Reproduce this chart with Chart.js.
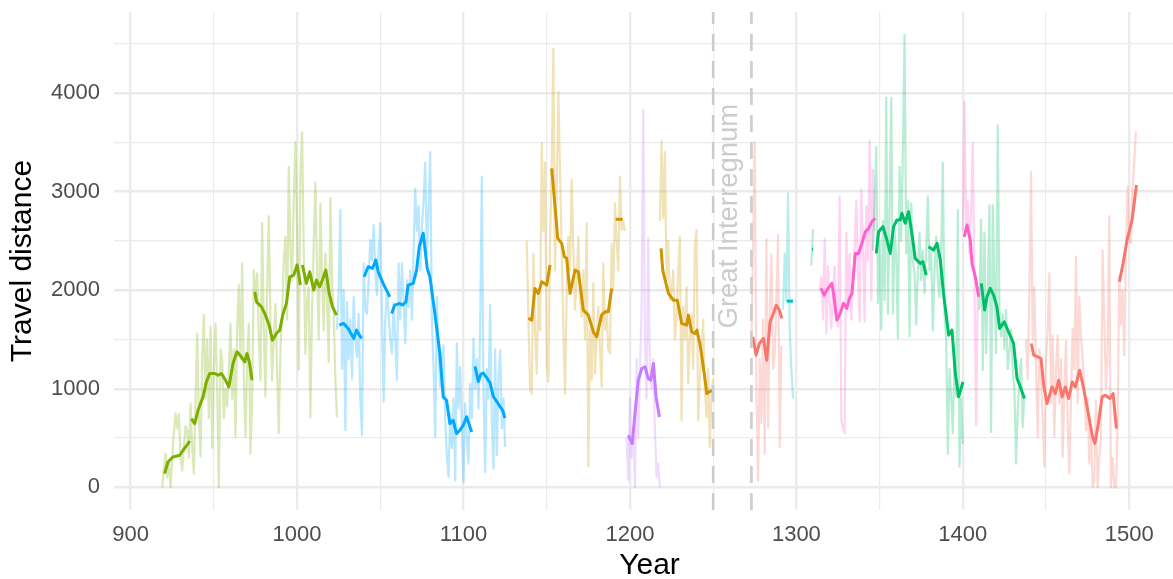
<!DOCTYPE html>
<html>
<head>
<meta charset="utf-8">
<script src="https://cdn.jsdelivr.net/npm/chart.js@4"></script>
<style>
  html, body { margin: 0; padding: 0; background: #fff; overflow: hidden; }
  #wrap { width: 1173px; height: 579px; overflow: hidden; }
</style>
</head>
<body>
<div id="wrap"><canvas id="grafico-reisen" width="1190" height="579"></canvas></div>
<script>
// yearly travel distance, one value per year from the start year
var ottonenStart = 919;
var ottonenRaw = [0, 200, 340, 100, 250, 0, 300, 560, 750, 600, 740, 300, 170, 400, 620, 580, 300,
  850, 400, 140, 900, 1560, 700, 310, 1300, 1750, 900, 1500, 700, 1630, 400, 1200, 1660, 1000, 0,
  1400, 1290, 700, 1000, 820, 1200, 1660, 900, 1400, 510, 1600, 2050, 1300, 2270, 1100, 510, 1300,
  1660, 340, 900, 2200, 1900, 2170, 1500, 1085, 2680, 1600, 920, 2000, 2750, 1700, 1085, 1500, 1860,
  1200, 550, 1400, 1760, 2300, 2540, 1700, 3250, 2400, 2100, 2900, 3500, 2600, 1190, 3150, 3600,
  2400, 1350, 1900, 2030, 710, 1800, 2470, 3090, 2200, 1500, 2880, 2100, 1590, 2370, 1900, 1270,
  2930, 2100, 1760, 1100, 710];

var salierStart = 1024;
var salierRaw = [1600, 2000, 2810, 1200, 2000, 580, 1880, 1300, 1700, 1100, 1930, 1500, 1320, 1760,
  900, 530, 2270, 1800, 1760, 2100, 2510, 2300, 2660, 2200, 1950, 2400, 2680, 1800, 870, 1700, 2000,
  1760, 1500, 1360, 1870, 1500, 1090, 2270, 1700, 2270, 1900, 1460, 2100, 1830, 2200, 1700, 2400,
  3030, 2600, 2850, 2200, 2640, 2900, 3290, 2370, 2800, 3400, 1700, 1200, 510, 1930, 1400, 1020,
  1200, 1440, 700, 320, 105, 750, 400, 900, 70, 1460, 800, 1220, 600, 55, 850, 500, 240, 1050, 700,
  1510, 1000, 1300, 800, 1600, 3150, 1000, 156, 1200, 900, 1850, 700, 190, 1400, 325, 1100, 1390,
  600, 900, 410];

var staufer1Start = 1138;
var staufer1Raw = [2500, 1700, 1000, 950, 2370, 1600, 1150, 2000, 1590, 3490, 2600, 3290, 1240, 1070,
  2500, 3300, 4450, 2200, 3000, 4010, 3200, 2370, 1600, 950, 2000, 2540, 2200, 3120, 2400, 1800,
  2100, 2540, 1900, 1730, 2200, 1500, 2680, 210, 1600, 1090, 2070, 1150, 1500, 1830, 1400, 1020,
  2270, 1600, 1800, 1400, 1360, 2470, 2000, 2880, 2500, 2200, 3150, 2610, 2700, 2600];
var staufer2Start = 1218;
var staufer2Raw = [2700, 3510, 2730, 3400, 2100, 2500, 1900, 2000, 2200, 1500, 1700, 2200, 2540, 680,
  1830, 1500, 2030, 1050, 1500, 1760, 1200, 2440, 2610, 680, 1100, 1360, 1700, 1000, 710, 1200, 410,
  950, 1100];

var welfenStart = 1198;
var welfenRaw = [500, 70, 900, 300, 600, 0, 1300, 500, 1200, 1800, 3830, 1500, 900, 2530, 1200, 1000,
  1300, 600, 100, 240, 0];

var habsburg1Start = 1273;
var habsburg1Raw = [1500, 2500, 3500, 1000, 70, 1300, 650, 1700, 340, 2520, 610, 1800, 2360, 1200,
  1360, 1900, 2560, 410, 1440];
var habsburg2Start = 1438;
var habsburg2Raw = [1500, 1100, 2000, 3200, 1500, 2030, 1220, 510, 1400, 1120, 680, 210, 1300, 1590,
  2170, 850, 1540, 510, 1200, 1540, 850, 1300, 310, 1000, 1480, 680, 140, 900, 1610, 1200, 2340, 850,
  1930, 1530, 1300, 1020, 580, 900, 240, 600, 0, 70, 880, 0, 300, 510, 2400, 1700, 1000, 1360, 2750,
  0, 300, 0, 0, 600, 2140, 1650, 2000, 1340, 2370, 3050, 2500, 2480, 3050, 3290, 3610];

var nassauStart = 1292;
var nassauRaw = [1800, 2370, 1900, 2980, 1590, 1200, 900];

var luxemburg1Start = 1309;
var luxemburg1Raw = [2250, 2620];
var luxemburg2Start = 1346;
var luxemburg2Raw = [2400, 2900, 3450, 1870, 2500, 1600, 2700, 1900, 3950, 1760, 2800, 3950, 1760,
  2600, 2340, 1510, 3250, 2500, 3390, 4590, 2370, 2900, 1530, 2880, 2300, 2170, 1650, 2200, 2580,
  2100, 2400, 1970, 2400, 2950, 2200, 2370, 1590, 2200, 2540, 2100, 1930, 2400, 3290, 1760, 1500,
  340, 1200, 920, 550, 1300, 920, 2810, 210, 900, 440];
var luxemburg3Start = 1410;
var luxemburg3Raw = [1800, 2710, 1190, 2580, 1360, 2000, 2860, 560, 2860, 2100, 1360, 3670, 1800, 1530,
  1760, 1400, 1800, 1200, 1390, 1600, 1190, 1000, 240, 780, 1090, 1300, 610, 950];

var wittelsbach1Start = 1314;
var wittelsbach1Raw = [2000, 2140, 1700, 2520, 1560, 2240, 1900, 1610, 2000, 2240, 1800, 1630, 2950,
  680, 600, 550, 2580, 1900, 2370, 1700, 2100, 2400, 2910, 2200, 1680, 3020, 2400, 1680, 2850, 2300,
  3510, 1900, 3220, 2600];
var wittelsbach2Start = 1400;
var wittelsbach2Raw = [2600, 3910, 2640, 2900, 2370, 2800, 3490, 2100, 630, 2000, 2030];

// smoothed curves, one list of [year, distance] per reign
var ottonenSmooth = [
  [[920.4, 139], [922.4, 257], [925.4, 308], [929.5, 325], [931.5, 376], [934.5, 443], [935.5, 470]],
  [[936.5, 697], [938.5, 646], [940.5, 781], [943.5, 917], [945.5, 1069], [947.5, 1154], [950.5, 1154],
   [952.5, 1137], [954.5, 1154], [956.5, 1103], [959, 1018], [961.5, 1256], [963.9, 1374], [966.5, 1323],
   [968.5, 1272], [969.9, 1357], [971.5, 1256], [972.9, 1086]],
  [[974.6, 1983], [975.6, 1881], [978.6, 1830], [980.6, 1763], [983.2, 1645], [985.2, 1492], [987.6, 1560],
   [989.6, 1594], [991.6, 1763], [993.6, 1865], [995.6, 2135], [998, 2152], [1000, 2254], [1002, 2051]],
  [[1003.2, 2254], [1005.6, 2068], [1007.6, 2186], [1010, 2000], [1011.6, 2102], [1013.6, 2034],
   [1015.2, 2102], [1017.3, 2203], [1019.3, 1966], [1021.3, 1830], [1023.7, 1746]]
];
var salierSmooth = [
  [[1025.3, 1645], [1028, 1662], [1030.7, 1611], [1034.1, 1510], [1035.7, 1594], [1038.7, 1510]],
  [[1040.3, 2135], [1042.7, 2237], [1045.3, 2220], [1047.3, 2305], [1048.7, 2186], [1051.7, 2068],
   [1055.7, 1932]],
  [[1056.8, 1763], [1058.7, 1848], [1061.7, 1865], [1063.3, 1848], [1065.4, 1881], [1066.7, 2051],
   [1069.8, 2068], [1071.8, 2203], [1073.4, 2440], [1075.8, 2576], [1078.2, 2220], [1079.8, 2135],
   [1082.8, 1763], [1085.8, 1357], [1087.8, 917], [1089.8, 883], [1091.8, 646], [1093.8, 680],
   [1095.8, 545], [1097.8, 579], [1099.8, 629], [1101.9, 714], [1104.9, 561]],
  [[1106.9, 1225], [1108.9, 1073], [1110.5, 1150], [1111.9, 1158], [1114, 1110], [1116, 1057],
   [1117.9, 921], [1120, 870], [1121.9, 820], [1123.5, 780], [1124.9, 702]]
];
var stauferSmooth = [
  [[1138.9, 1713], [1141, 1695], [1142.9, 2017], [1144.9, 1966], [1147, 2084], [1150, 2051], [1152, 2254]],
  [[1153, 3235], [1155, 2846], [1156.6, 2525], [1159, 2474], [1160.6, 2338], [1162, 2322], [1164, 1966],
   [1167, 2203], [1169, 2186], [1172, 1797], [1175, 1746], [1178, 1577], [1180, 1526], [1183, 1746],
   [1185, 1780], [1187, 1780], [1189, 2017]],
  [[1191.4, 2718], [1195.6, 2718]],
  [[1218.7, 2423], [1219.7, 2203], [1223.1, 1966], [1226.1, 1898], [1228.5, 1898], [1231.1, 1662],
   [1234.1, 1645], [1235.1, 1746], [1237.1, 1577], [1239.1, 1560], [1240.2, 1594], [1242.2, 1442],
   [1244.1, 1221], [1246.2, 951], [1249.2, 985]]
];
var welfenSmooth = [
  [[1199, 528], [1201.4, 444], [1203, 748], [1205, 1086], [1207.1, 1205], [1209.1, 1221], [1211, 1103],
   [1212.5, 1086], [1214.1, 1256], [1215.7, 917], [1217.7, 714]]
];
var habsburgSmooth = [
  [[1273.8, 1526], [1275.8, 1340], [1277.8, 1459], [1280.2, 1510], [1282.2, 1289], [1284.2, 1678],
   [1286.2, 1763], [1287.9, 1848], [1289.8, 1797], [1291.3, 1713]],
  [[1441.2, 1459], [1442.6, 1340], [1445, 1323], [1447, 1306], [1448.6, 1036], [1450.6, 850],
   [1453.6, 1018], [1455.6, 951], [1457.6, 1086], [1459.7, 917], [1461.6, 1018], [1463.6, 900],
   [1465.7, 1069], [1467.6, 1018], [1470.2, 1188], [1472.6, 1002], [1475.6, 731], [1477.7, 528],
   [1479.3, 444], [1481.3, 629], [1483.7, 917], [1485.7, 934], [1488.3, 900], [1490.3, 951], [1492.3, 596]],
  [[1494.1, 2084], [1496.3, 2271], [1498.7, 2508], [1501.7, 2711], [1504.3, 3066]]
];
var nassauSmooth = [
  [[1294.1, 1888], [1298, 1888]]
];
var luxemburgSmooth = [
  [[1309.4, 2413], [1310, 2413]],
  [[1348, 2372], [1349.4, 2592], [1352, 2643], [1354.4, 2508], [1356.4, 2372], [1358.4, 2643],
   [1360.4, 2711], [1362.4, 2711], [1363.4, 2779], [1365.4, 2677], [1367.4, 2795], [1369.4, 2576],
   [1371.4, 2322], [1374.4, 2271], [1376, 2288], [1378, 2152]],
  [[1379.4, 2440], [1382.4, 2406], [1384.5, 2474], [1386.5, 2305], [1388.4, 1966], [1391.5, 1543],
   [1393.5, 1594], [1395.5, 1154], [1397.5, 917], [1400.1, 1069]],
  [[1411.1, 2068], [1413.1, 1797], [1414.5, 1932], [1416.5, 2017], [1418.5, 1949], [1420.5, 1830],
   [1422.1, 1611], [1424.9, 1678], [1427.5, 1577], [1430.5, 1459], [1432.6, 1103], [1434.6, 1018],
   [1437, 900]]
];
var wittelsbachSmooth = [
  [[1314.7, 2017], [1316.7, 1949], [1318.3, 2000], [1321.3, 2068], [1322.3, 1966], [1324.3, 1695],
   [1326.3, 1763], [1328.3, 1865], [1330.3, 1814], [1331.9, 1916], [1333.4, 1966], [1335.4, 2372],
   [1337.3, 2372], [1339.4, 2474], [1341.4, 2592], [1343.4, 2626], [1345.4, 2694], [1347.4, 2728]],
  [[1400.9, 2541], [1402.5, 2660], [1404.5, 2508], [1405.5, 2271], [1407.5, 2135], [1409.5, 1932]]
];

var xTicks = [900, 950, 1000, 1050, 1100, 1150, 1200, 1250, 1300, 1350, 1400, 1450, 1500];
var yTicks = [0, 500, 1000, 1500, 2000, 2500, 3000, 3500, 4000, 4500];
var interregnum = [1250, 1273];

function rgba(hex, a) {
  var n = parseInt(hex.slice(1), 16);
  return "rgba(" + (n >> 16) + "," + ((n >> 8) & 255) + "," + (n & 255) + "," + a + ")";
}

function rawPoints(parts) {
  var pts = [];
  parts.forEach(function (p, k) {
    if (k > 0) pts.push({ x: p[0] - 0.5, y: null });
    p[1].forEach(function (v, i) {
      pts.push({ x: p[0] + i, y: v });
    });
  });
  return pts;
}

var datasets = [];
function addDynasty(color, rawParts, smooth) {
  datasets.push({
    data: rawPoints(rawParts),
    borderColor: rgba(color, 0.28),
    borderWidth: 2.2,
    order: 2,
  });
  smooth.forEach(function (seg) {
    datasets.push({
      data: seg.map(function (p) { return { x: p[0], y: p[1] }; }),
      borderColor: color,
      borderWidth: 3,
      order: 1,
    });
  });
}

addDynasty("#7CAE00", [[ottonenStart, ottonenRaw]], ottonenSmooth);
addDynasty("#00A9FF", [[salierStart, salierRaw]], salierSmooth);
addDynasty("#CD9600", [[staufer1Start, staufer1Raw], [staufer2Start, staufer2Raw]], stauferSmooth);
addDynasty("#C77CFF", [[welfenStart, welfenRaw]], welfenSmooth);
addDynasty("#F8766D", [[habsburg1Start, habsburg1Raw], [habsburg2Start, habsburg2Raw]], habsburgSmooth);
addDynasty("#00BFC4", [[nassauStart, nassauRaw]], nassauSmooth);
addDynasty("#00BE67", [[luxemburg1Start, luxemburg1Raw], [luxemburg2Start, luxemburg2Raw],
  [luxemburg3Start, luxemburg3Raw]], luxemburgSmooth);
addDynasty("#FF61CC", [[wittelsbach1Start, wittelsbach1Raw], [wittelsbach2Start, wittelsbach2Raw]],
  wittelsbachSmooth);

// dashed lines + label for the interregnum
var interregnumPlugin = {
  id: "interregnum",
  afterDatasetsDraw: function (chart) {
    var c = chart.ctx, a = chart.chartArea, sx = chart.scales.x, sy = chart.scales.y;
    c.save();
    c.strokeStyle = "#CCCCCC";
    c.lineWidth = 2.6;
    c.setLineDash([17, 10]);
    interregnum.forEach(function (yr) {
      var px = sx.getPixelForValue(yr);
      c.beginPath();
      c.moveTo(px, a.bottom);
      c.lineTo(px, a.top);
      c.stroke();
    });
    c.setLineDash([]);
    c.translate(sx.getPixelForValue(1260), sy.getPixelForValue(2750));
    c.rotate(-Math.PI / 2);
    c.fillStyle = "#CCCCCC";
    c.font = "27.5px 'Liberation Sans', Arial, sans-serif";
    c.textAlign = "center";
    c.textBaseline = "middle";
    c.fillText("Great Interregnum", 0, 0);
    c.restore();
  },
};

var fonte = "'Liberation Sans', Arial, sans-serif";

new Chart(document.getElementById("grafico-reisen").getContext("2d"), {
  type: "line",
  data: { datasets: datasets },
  options: {
    responsive: false,
    animation: false,
    devicePixelRatio: 1,
    layout: { padding: { top: 12, right: 5, left: 0, bottom: 0 } },
    elements: {
      point: { radius: 0 },
      line: { tension: 0, borderJoinStyle: "round" },
    },
    plugins: {
      legend: { display: false },
      tooltip: { enabled: false },
    },
    scales: {
      x: {
        type: "linear",
        min: 890,
        max: 1533.5,
        afterBuildTicks: function (s) {
          s.ticks = xTicks.map(function (v) { return { value: v }; });
        },
        afterFit: function (s) {
          s.height = 69;
          s.paddingLeft = 0;
          s.paddingRight = 0;
        },
        border: { display: false },
        grid: {
          color: "#EBEBEB",
          drawTicks: false,
          lineWidth: function (ctx) {
            return ctx.tick && ctx.tick.value % 100 === 0 ? 2.4 : 1.2;
          },
        },
        ticks: {
          autoSkip: false,
          maxRotation: 0,
          padding: 12,
          color: "#4D4D4D",
          font: { family: fonte, size: 22 },
          callback: function (v) { return v % 100 === 0 ? String(v) : ""; },
        },
        title: {
          display: true,
          text: "Year",
          color: "#000",
          padding: { top: 0, bottom: -2 },
          font: { family: fonte, size: 30, lineHeight: 1 },
        },
      },
      y: {
        min: -230,
        max: 4820,
        afterBuildTicks: function (s) {
          s.ticks = yTicks.map(function (v) { return { value: v }; });
        },
        afterFit: function (s) {
          s.width = 114;
          s.paddingTop = 0;
          s.paddingBottom = 0;
        },
        border: { display: false },
        grid: {
          color: "#EBEBEB",
          drawTicks: false,
          lineWidth: function (ctx) {
            return ctx.tick && ctx.tick.value % 1000 === 0 ? 2.4 : 1.2;
          },
        },
        ticks: {
          autoSkip: false,
          padding: 14,
          color: "#4D4D4D",
          font: { family: fonte, size: 22 },
          callback: function (v) { return v % 1000 === 0 ? String(v) : ""; },
        },
        title: {
          display: true,
          text: "Travel distance",
          color: "#000",
          padding: { top: 8, bottom: 0 },
          font: { family: fonte, size: 30, lineHeight: 1 },
        },
      },
    },
  },
  plugins: [interregnumPlugin],
});
</script>
</body>
</html>
